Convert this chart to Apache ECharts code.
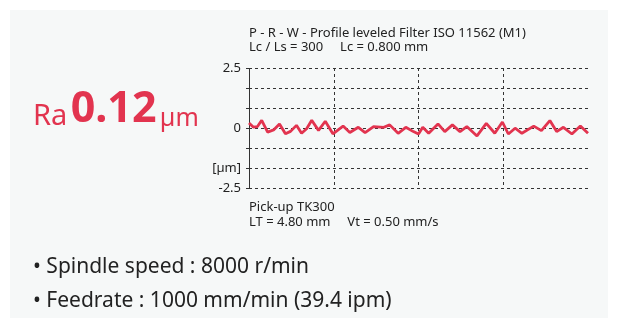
<!DOCTYPE html>
<html>
<head>
<meta charset="utf-8">
<script src="https://cdn.jsdelivr.net/npm/echarts@6/dist/echarts.min.js"></script>
<style>
  html, body { margin: 0; padding: 0; background: #fff; }
  #main { width: 622px; height: 318px; }
</style>
</head>
<body>
<div id="main"></div>
<script>
// profile position (grid units) and height in µm
var profileX = [0.00, 0.05, 0.10, 0.15, 0.22, 0.29, 0.36, 0.43, 0.49, 0.56, 0.62, 0.68, 0.74, 0.82, 0.90, 0.99,
  1.11, 1.19, 1.29, 1.37, 1.47, 1.59, 1.66, 1.76, 1.85, 1.94,
  2.00, 2.05, 2.12, 2.23, 2.31, 2.40, 2.49, 2.57, 2.69, 2.80, 2.90, 2.99,
  3.06, 3.14, 3.22, 3.36, 3.45, 3.55, 3.63, 3.71, 3.81, 3.91, 4.00];
var profileY = [0.21, 0.04, 0.06, 0.32, -0.17, -0.08, 0.17, -0.24, -0.14, 0.11, -0.22, -0.03, 0.32, -0.10, 0.28, -0.24,
  0.08, -0.19, 0.03, -0.19, 0.06, 0.03, 0.13, -0.22, 0.03, -0.15,
  -0.25, 0.03, -0.22, 0.17, -0.15, 0.13, -0.15, 0.06, -0.33, 0.19, -0.22, 0.25,
  -0.25, -0.01, -0.22, 0.08, -0.11, 0.31, -0.15, 0.03, -0.25, 0.08, -0.22];
var yTicks = {'2.50': '2.5', '0.00': '0', '-1.67': '[µm]', '-2.50': '-2.5'};
var headerLines = ['P - R - W - Profile leveled Filter ISO 11562 (M1)', 'Lc / Ls = 300     Lc = 0.800 mm'];
var footerLines = ['Pick-up TK300', 'LT = 4.80 mm     Vt = 0.50 mm/s'];
var bullets = ['Spindle speed : 8000 r/min', 'Feedrate : 1000 mm/min (39.4 ipm)'];

var red = '#e2344f';
var font = 'Noto Sans';
var dash = { color: '#333', type: [3, 3], width: 1 };

var pts = [];
for (var i = 0; i < profileX.length; i++) {
  pts.push([profileX[i], profileY[i]]);
}

var graphics = [
  { type: 'rect', z: -10, shape: { x: 10, y: 10, width: 598, height: 320 }, style: { fill: '#f6f8f8' } },
  { type: 'text', left: 33, top: 88, style: {
      text: '{a|Ra} {b|0.12} {c|µm}',
      rich: {
        a: { fontSize: 29, fill: red, fontFamily: font, verticalAlign: 'bottom' },
        b: { fontSize: 43, fill: red, fontFamily: font, fontWeight: 'bold', verticalAlign: 'bottom' },
        c: { fontSize: 25, fill: red, fontFamily: font, verticalAlign: 'bottom' }
      }
  } }
];
headerLines.forEach(function(t, k){
  graphics.push({ type: 'text', x: 249, y: 27 + k * 14, style: { text: t, fontSize: 13, fontFamily: font, fill: '#222' } });
});
footerLines.forEach(function(t, k){
  graphics.push({ type: 'text', x: 249, y: 201 + k * 15, style: { text: t, fontSize: 13, fontFamily: font, fill: '#222' } });
});
bullets.forEach(function(t, k){
  graphics.push({ type: 'text', x: 33, y: 257 + k * 34, style: { text: '• ' + t, fontSize: 21, fontFamily: font, fill: '#222' } });
});

var myChart = echarts.init(document.getElementById('main'));
myChart.setOption({
  animation: false,
  grid: { left: 249, right: 34, top: 68, bottom: 130 },
  xAxis: {
    type: 'value', min: 0, max: 4, interval: 1,
    axisLine: { show: false }, axisTick: { show: false }, axisLabel: { show: false },
    splitLine: { show: true, lineStyle: { color: ['#333', '#333', '#333', '#333', 'rgba(0,0,0,0)'], type: [3, 3], width: 1 } }
  },
  yAxis: {
    type: 'value', min: -2.5, max: 2.5, interval: 2.5 / 3,
    axisLine: { show: true, lineStyle: dash },
    axisTick: { show: true, length: 3, lineStyle: { color: '#333' } },
    axisLabel: {
      color: '#222', fontSize: 13, fontFamily: font, margin: 8,
      formatter: function(v){ return yTicks[v.toFixed(2)] || ''; },
      padding: [0, 0, 0, 0]
    },
    splitLine: { show: true, lineStyle: dash }
  },
  series: [{
    type: 'line', data: pts, showSymbol: false, symbol: 'none',
    lineStyle: { color: red, width: 2.8 }
  }],
  graphic: graphics
});
</script>
</body>
</html>
